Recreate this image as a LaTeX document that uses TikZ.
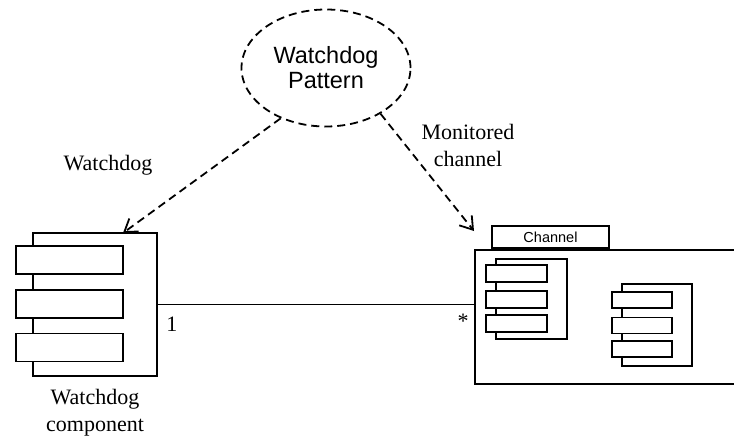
\documentclass[tikz,border=0pt]{standalone}
\usepackage{fontspec}
\setmainfont{Liberation Serif}
\setsansfont{Liberation Sans}
\usetikzlibrary{arrows.meta,shapes.geometric,calc,positioning}

\tikzset{
	box/.style={draw, line width=1.8pt, fill=white, inner sep=0pt},
	dep/.style={line width=1.8pt, dash pattern=on 8pt off 5pt, -{Straight Barb[length=12pt,width=16pt]}},
	lbl/.style={font=\fontsize{22}{27}\selectfont, align=center},
}

\begin{document}
\begin{tikzpicture}[x=1pt,y=-1pt]
	\clip (0,0) rectangle (734,439);

	% WATCHDOG COMPONENT
	\node[box, minimum width=124, minimum height=143] (wd) at (95,304.5) {};
	\foreach \y [count=\i] in {260,304,347.5}
		\node[box, minimum width=107, minimum height=28] (wd\i) at (69.5,\y) {};
	\node[lbl, below=9pt of wd] (wdname) {Watchdog\\component};

	% CHANNEL PACKAGE
	\node[box, minimum width=285, minimum height=134] (chan) at (617.5,317) {};
	\node[box, font=\sffamily\fontsize{14.5}{16}\selectfont, minimum width=117, minimum height=22, anchor=south west] (tab) at ($(chan.north west)+(17,0)$) {Channel};
	\node[box, minimum width=71, minimum height=80] (c1) at (531.5,299) {};
	\foreach \y [count=\i] in {273.5,299.5,323.5}
		\node[box, minimum width=61, minimum height=17] (c1\i) at (516.5,\y) {};
	\node[box, minimum width=70, minimum height=82] (c2) at (657,325) {};
	\foreach \y [count=\i] in {300,325.5,349}
		\node[box, minimum width=60, minimum height=16] (c2\i) at (642,\y) {};

	% PATTERN
	\node[ellipse, draw, line width=1.8pt, dash pattern=on 8pt off 5pt, minimum width=169, minimum height=117, font=\sffamily\fontsize{23.5}{25}\selectfont, align=center] (pat) at (326,68) {Watchdog\\Pattern};
	\coordinate (wdtip) at (123,233);
	\coordinate (montip) at (474,231);
	\draw[dep] (pat.228) -- (wdtip);
	\draw[dep] (pat.-40) -- (montip);
	\node[lbl] (wdlbl) at (108,165) {Watchdog};
	\node[lbl] (monlbl) at (468,145) {Monitored\\channel};

	% ASSOCIATION
	\draw[line width=1.8pt] (wd.east) -- (wd.east -| chan.west) coordinate (assocend);
	\node[lbl, below right=9pt and 5pt of wd.east] (one) {1};
	\node[lbl, below left=6pt and 2pt of assocend] (star) {*};
\end{tikzpicture}
\end{document}
